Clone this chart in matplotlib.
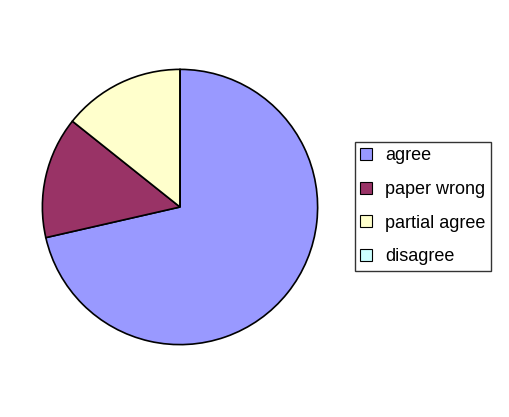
import matplotlib
matplotlib.use('Agg')
import matplotlib.pyplot as plt

labels = ['agree', 'paper wrong', 'partial agree', 'disagree']
counts = [5, 1, 1, 0]
colors = ['#9999FF', '#993366', '#FFFFCC', '#CCFFFF']

plt.rcParams['font.family'] = ['Liberation Sans', 'DejaVu Sans']

fig = plt.figure(figsize=(5.10, 4.17), dpi=100)
ax = fig.add_axes([41/510, 1 - 346/417, 278/510, 278/417])
wedges, _ = ax.pie(counts, colors=colors, startangle=90, counterclock=False,
                   wedgeprops=dict(edgecolor='black', linewidth=1.2))
ax.set_xlim(-1.01, 1.01); ax.set_ylim(-1.01, 1.01)
ax.set_aspect('equal')
ax.axis('off')

leg = fig.legend(wedges, labels, loc='upper left',
                 bbox_to_anchor=(355/510, 1 - 142/417),
                 fontsize=13, frameon=True, fancybox=False,
                 handlelength=0.65, handleheight=0.65, handletextpad=0.7,
                 labelspacing=0.92, borderpad=0.3, borderaxespad=0)
leg.get_frame().set_edgecolor('black')
leg.get_frame().set_linewidth(1.0)
for h in leg.legend_handles:
    h.set_edgecolor('black')
    h.set_linewidth(0.8)

fig.savefig('out.png', dpi=100)
